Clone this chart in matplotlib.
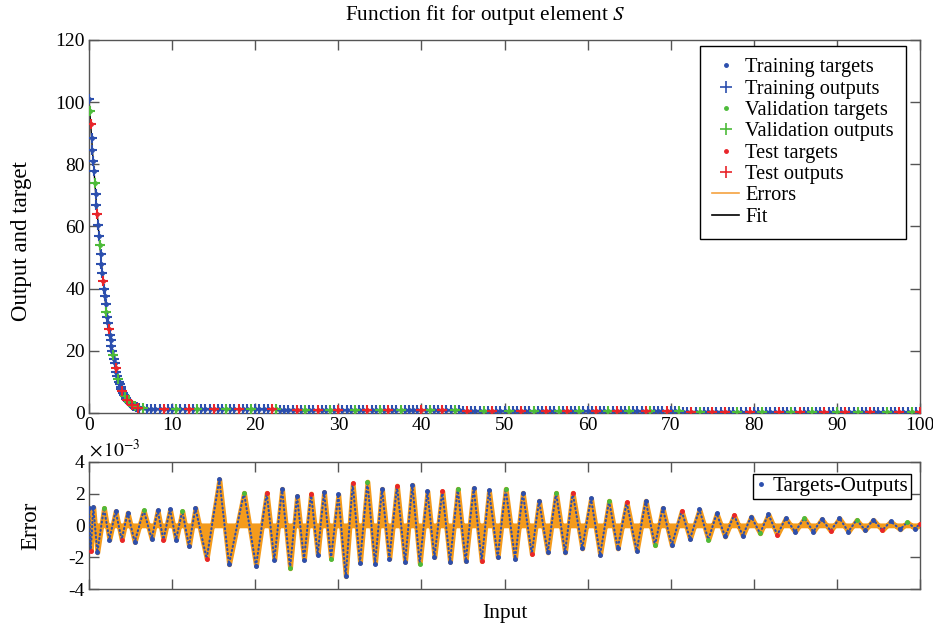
import matplotlib
matplotlib.use('Agg')
import matplotlib.pyplot as plt
from matplotlib.lines import Line2D
import numpy as np

plt.rcParams['font.family'] = ['Liberation Serif', 'DejaVu Serif']
plt.rcParams['mathtext.fontset'] = 'stix'
plt.rcParams['axes.unicode_minus'] = False

# top panel: input vs output/target
x_top = [0.0, 0.1, 0.2, 0.3, 0.4, 0.5, 0.6, 0.7, 0.8, 0.9,
         1.0, 1.1, 1.2, 1.3, 1.4, 1.5, 1.6, 1.7, 1.8, 1.9,
         2.0, 2.1, 2.2, 2.3, 2.4, 2.5, 2.6, 2.7, 2.8, 2.9,
         3.0, 3.1, 3.2, 3.3, 3.4, 3.5, 3.6, 3.7, 3.8, 3.9,
         4.0, 4.1, 4.2, 4.3, 4.4, 4.5, 4.6, 4.7, 4.8, 4.9,
         5.0, 5.1, 5.2, 5.3, 5.4, 5.5, 5.6, 5.7, 5.8, 5.9,
         6.0,
         6.5, 7, 7.5, 8, 8.5, 9, 9.5, 10, 10.5, 11,
         11.5, 12, 12.5, 13, 13.5, 14, 14.5, 15, 15.5, 16,
         16.5, 17, 17.5, 18, 18.5, 19, 19.5, 20, 20.5, 21,
         21.5, 22, 22.5, 23, 23.5, 24, 24.5, 25, 25.5, 26,
         26.5, 27, 27.5, 28, 28.5, 29, 29.5, 30, 30.5, 31,
         31.5, 32, 32.5, 33, 33.5, 34, 34.5, 35, 35.5, 36,
         36.5, 37, 37.5, 38, 38.5, 39, 39.5, 40, 40.5, 41,
         41.5, 42, 42.5, 43, 43.5, 44, 44.5, 45, 45.5, 46,
         46.5, 47, 47.5, 48, 48.5, 49, 49.5, 50, 50.5, 51,
         51.5, 52, 52.5, 53, 53.5, 54, 54.5, 55, 55.5, 56,
         56.5, 57, 57.5, 58, 58.5, 59, 59.5, 60, 60.5, 61,
         61.5, 62, 62.5, 63, 63.5, 64, 64.5, 65, 65.5, 66,
         66.5, 67, 67.5, 68, 68.5, 69, 69.5, 70, 70.5, 71,
         71.5, 72, 72.5, 73, 73.5, 74, 74.5, 75, 75.5, 76,
         76.5, 77, 77.5, 78, 78.5, 79, 79.5, 80, 80.5, 81,
         81.5, 82, 82.5, 83, 83.5, 84, 84.5, 85, 85.5, 86,
         86.5, 87, 87.5, 88, 88.5, 89, 89.5, 90, 90.5, 91,
         91.5, 92, 92.5, 93, 93.5, 94, 94.5, 95, 95.5, 96,
         96.5, 97, 97.5, 98, 98.5, 99, 99.5, 100]
y_top = [101, 97, 93, 88.5, 84.5, 81, 78, 74, 70.5, 67,
         64, 60.5, 57, 54, 51, 48, 45, 42.3, 39.8, 37.5,
         35, 32.5, 31, 29, 27, 25, 23.5, 21.5, 20, 18.5,
         17.3, 16, 14.5, 13.2, 12, 11, 10, 9.2, 8.4, 7.7,
         7.0, 6.4, 5.8, 5.3, 4.9, 4.5, 4.1, 3.8, 3.5, 3.2,
         3.0, 2.8, 2.6, 2.4, 2.2, 2.1, 2.0, 1.9, 1.8, 1.7,
         1.6,
         1.5, 1.4, 1.35, 1.3, 1.3, 1.3, 1.3, 1.3, 1.3, 1.3,
         1.3, 1.3, 1.3, 1.3, 1.3, 1.25, 1.25, 1.25, 1.25, 1.25,
         1.25, 1.2, 1.2, 1.2, 1.2, 1.2, 1.2, 1.2, 1.2, 1.15,
         1.15, 1.15, 1.15, 1.1, 1.1, 1.1, 1.1, 1.1, 1.1, 1.05,
         1.05, 1.05, 1.05, 1.0, 1.0, 1.0, 1.0, 1.0, 1.0, 0.95,
         0.95, 0.95, 0.95, 0.95, 0.95, 0.9, 0.9, 0.9, 0.9, 0.9,
         0.9, 0.9, 0.9, 0.85, 0.85, 0.85, 0.85, 0.85, 0.85, 0.85,
         0.85, 0.8, 0.8, 0.8, 0.8, 0.8, 0.8, 0.75, 0.75, 0.75,
         0.75, 0.75, 0.75, 0.7, 0.7, 0.7, 0.7, 0.7, 0.7, 0.7,
         0.7, 0.65, 0.65, 0.65, 0.65, 0.65, 0.65, 0.65, 0.65, 0.6,
         0.6, 0.6, 0.6, 0.6, 0.6, 0.6, 0.6, 0.6, 0.6, 0.55,
         0.55, 0.55, 0.55, 0.55, 0.55, 0.55, 0.55, 0.55, 0.5, 0.5,
         0.5, 0.5, 0.5, 0.5, 0.5, 0.5, 0.5, 0.5, 0.5, 0.5,
         0.45, 0.45, 0.45, 0.45, 0.45, 0.45, 0.45, 0.45, 0.45, 0.45,
         0.45, 0.45, 0.45, 0.4, 0.4, 0.4, 0.4, 0.4, 0.4, 0.4,
         0.4, 0.4, 0.4, 0.4, 0.4, 0.4, 0.4, 0.4, 0.35, 0.35,
         0.35, 0.35, 0.35, 0.35, 0.35, 0.35, 0.35, 0.35, 0.35, 0.35,
         0.35, 0.3, 0.3, 0.3, 0.3, 0.3, 0.3, 0.3, 0.3, 0.3,
         0.3, 0.3, 0.3, 0.3, 0.3, 0.3, 0.3, 0.3]
# t = training, v = validation, s = test
cat_top = ("tvsttttvtt" "sttvtttstt" "tvttsttttv" "ttsttvtttt" "sttvttstvt"
           "ttsttvttts" "tvttttsttv" "ttstvtttst" "tvttsttvtt" "ttsvttttst"
           "vttsttvtst" "ttvttsttvt" "sttvttttst" "vttsttvtts" "tttvtstttv"
           "ttsttvttst" "tvtsttvttt" "sttvtsttvt" "ttsvtttstt" "vttstvttst"
           "tsttvttstt" "vtttsttvts" "ttvttsttvt" "sttvttsttt" "vttsttvts")

# bottom panel: error peaks and troughs (units of 1e-3)
err_x = [0.0, 0.20, 0.52, 1.0, 1.8, 2.45, 3.2, 3.93, 4.65, 5.5,
         6.58, 7.54, 8.26, 8.95, 9.75, 10.47, 11.23, 12.03, 12.8, 14.16,
         15.68, 16.85, 18.65, 20.1, 21.38, 22.3, 23.23, 24.19, 25.03, 25.87,
         26.72, 27.52, 28.28, 29.12, 30.0, 30.89, 31.73, 32.61, 33.5, 34.42,
         35.26, 36.14, 37.06, 38.03, 38.91, 39.8, 40.72, 41.56, 42.52, 43.44,
         44.37, 45.33, 46.29, 47.25, 48.13, 49.18, 50.14, 51.27, 52.2, 53.28,
         54.15, 55.2, 56.2, 57.28, 58.2, 59.35, 60.41, 61.5, 62.58, 63.62,
         64.7, 65.91, 66.99, 68.11, 69.03, 70.12, 71.32, 72.32, 73.45, 74.53,
         75.53, 76.54, 77.62, 78.66, 79.68, 80.75, 81.75, 82.83, 83.83, 84.96,
         86.08, 87.16, 88.17, 89.25, 90.3, 91.38, 92.38, 93.38, 94.38, 95.47,
         96.47, 97.6, 98.48, 99.4, 100.0]
err_v = [1.1, -1.6, 1.15, -1.7, 1.1, -0.9, 0.9, -0.9, 0.8, -1.05,
         0.95, -0.85, 0.95, -0.9, 1.0, -0.9, 0.9, -1.3, 1.1, -2.1,
         2.9, -2.45, 2.05, -2.55, 2.05, -2.15, 2.3, -2.7, 1.85, -2.15,
         2.0, -1.85, 2.1, -2.1, 1.95, -3.2, 2.65, -2.35, 2.75, -2.4,
         2.3, -2.1, 2.5, -2.3, 2.55, -2.4, 2.15, -2.0, 2.15, -2.3,
         2.3, -2.25, 2.35, -2.25, 2.2, -2.0, 2.3, -2.1, 2.05, -1.8,
         1.55, -1.7, 2.05, -1.7, 2.05, -1.45, 1.7, -1.85, 1.55, -1.45,
         1.45, -1.6, 1.55, -1.25, 1.1, -1.25, 0.9, -0.85, 1.0, -0.9,
         0.75, -0.7, 0.65, -0.65, 0.55, -0.5, 0.7, -0.6, 0.45, -0.4,
         0.45, -0.4, 0.4, -0.35, 0.45, -0.4, 0.35, -0.3, 0.35, -0.3,
         0.25, -0.25, 0.2, -0.2, 0.1]
cat_err = ("tsttvttstt" "vttsttvtts" "ttvtsttvtt" "sttvttstvt" "ttsttvttst"
           "vttsttvtts" "ttvtstttvt" "sttvttsttv" "ttsttvtstt" "vttsttvtts"
           "ttvts")

blue = '#2c4fae'
green = '#4dbb3a'
red = '#e8252a'
orange = '#f49b1c'
colors = {'t': blue, 'v': green, 's': red}

fig = plt.figure(figsize=(9.33, 6.28), dpi=100)
ax1 = fig.add_axes([0.0954, 0.3424, 0.8907, 0.594])
ax2 = fig.add_axes([0.0954, 0.0621, 0.8907, 0.2027])

xt = np.array(x_top)
yt = np.array(y_top)
ct = np.array(list(cat_top))
ax1.plot(xt, yt, color='k', lw=1, zorder=1)
for c in ['t', 'v', 's']:
    m = ct == c
    ax1.plot(xt[m], yt[m], ls='none', marker='.', ms=5, color=colors[c], zorder=2)
    ax1.plot(xt[m], yt[m], ls='none', marker='+', ms=7.5, mew=1.5, color=colors[c], zorder=3)

ax1.set_xlim(0, 100)
ax1.set_ylim(0, 120)
ax1.set_xticks(range(0, 101, 10))
ax1.set_yticks(range(0, 121, 20))
ax1.set_ylabel('Output and target', fontsize=16.5)
ax1.yaxis.set_label_coords(-0.068, 0.46)
ax1.set_title('Function fit for output element $S$', fontsize=15.3, x=0.476, pad=14)

handles = [
    Line2D([], [], ls='none', marker='.', ms=5, color=blue),
    Line2D([], [], ls='none', marker='+', ms=9, mew=1.2, color=blue),
    Line2D([], [], ls='none', marker='.', ms=5, color=green),
    Line2D([], [], ls='none', marker='+', ms=9, mew=1.2, color=green),
    Line2D([], [], ls='none', marker='.', ms=5, color=red),
    Line2D([], [], ls='none', marker='+', ms=9, mew=1.2, color=red),
    Line2D([], [], color='#f5a240', lw=1.2),
    Line2D([], [], color='k', lw=1.2),
]
labels = ['Training targets', 'Training outputs', 'Validation targets',
          'Validation outputs', 'Test targets', 'Test outputs', 'Errors', 'Fit']
leg = ax1.legend(handles, labels, loc='upper right', bbox_to_anchor=(0.983, 0.984),
                 fontsize=14.7, frameon=True, fancybox=False, edgecolor='k',
                 framealpha=1, handlelength=1.3, handletextpad=0.3,
                 labelspacing=0.1, borderpad=0.6, borderaxespad=0)
leg.get_frame().set_linewidth(1.0)

ex = np.array(err_x)
ev = np.array(err_v)
ce = np.array(list(cat_err))
ax2.axhline(0, color=orange, lw=2, zorder=1)
ax2.fill_between(ex, ev, 0, facecolor=orange, edgecolor=orange, lw=3.5, zorder=2)
ax2.plot(ex, ev, color=blue, lw=1.5, ls=(0, (0.5, 1.5)), dash_capstyle='round', zorder=3)
for c in ['t', 'v', 's']:
    m = ce == c
    ax2.plot(ex[m], ev[m], ls='none', marker='.', ms=5, color=colors[c], zorder=4)

ax2.set_xlim(0, 100)
ax2.set_ylim(-4, 4)
ax2.set_xticks(range(0, 101, 10))
ax2.set_xticklabels([])
ax2.set_yticks([-4, -2, 0, 2, 4])
ax2.set_ylabel('Error', fontsize=16.5)
ax2.yaxis.set_label_coords(-0.058, 0.5)
ax2.set_xlabel('Input', fontsize=15.5)
ax2.xaxis.set_label_coords(0.5, -0.12)
ax2.text(0.0, 1.01, r'$\times\,10^{-3}$', transform=ax2.transAxes,
         fontsize=14, ha='left', va='bottom')
leg2 = ax2.legend([Line2D([], [], ls='none', marker='.', ms=5, color=blue)],
                  ['Targets-Outputs'], loc='upper right',
                  bbox_to_anchor=(0.989, 0.903), fontsize=15.2, frameon=True,
                  fancybox=False, edgecolor='k', framealpha=1,
                  handlelength=0.5, handletextpad=0.3, borderpad=0.12,
                  borderaxespad=0)
leg2.get_frame().set_linewidth(1.0)

for ax in (ax1, ax2):
    for s in ax.spines.values():
        s.set_color('#555555')
        s.set_linewidth(1.0)
    ax.tick_params(direction='in', top=True, right=True, length=7, width=1,
                   color='#555555', labelsize=14, pad=3)

fig.savefig('out.png', dpi=100)
